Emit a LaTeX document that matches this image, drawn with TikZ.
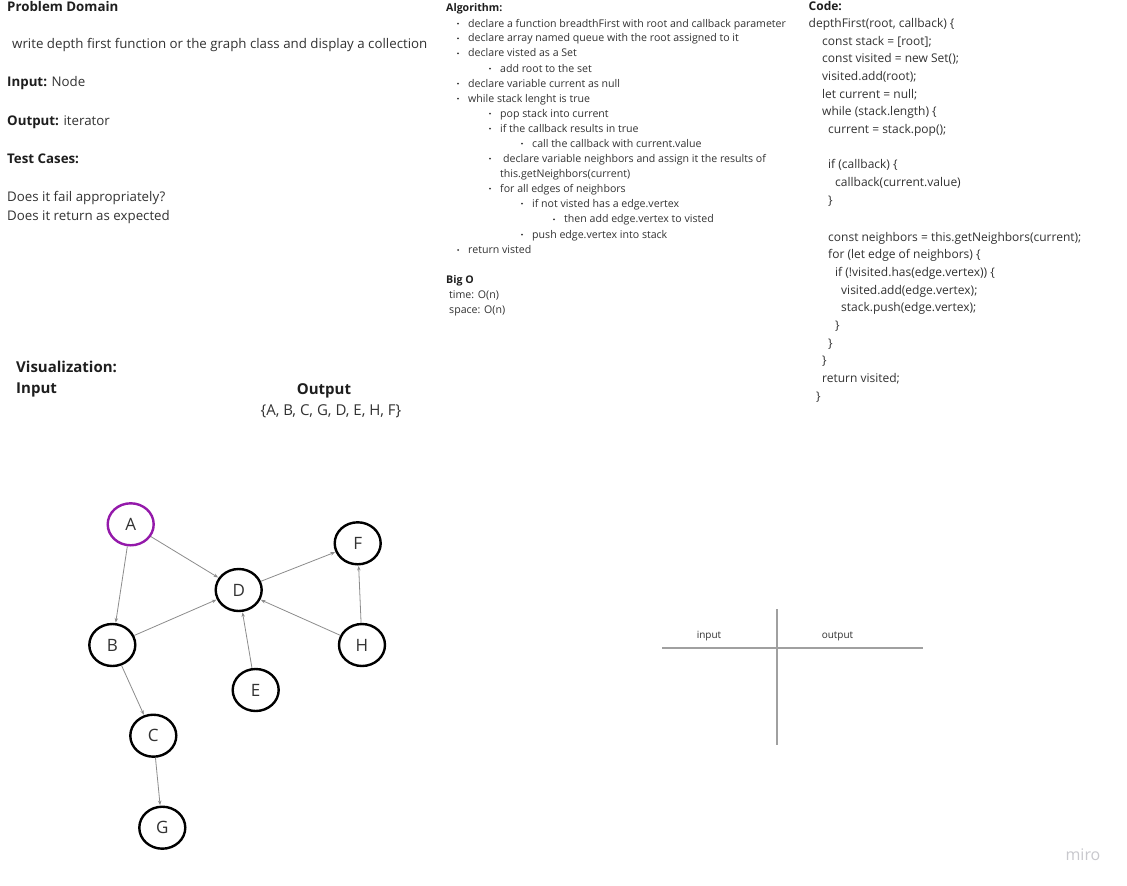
\documentclass[tikz,border=0pt]{standalone}
\usepackage{fontspec}
\setmainfont{Open Sans}
\usetikzlibrary{shapes.geometric,arrows.meta}
\definecolor{txtgray}{RGB}{50,50,50}
\definecolor{boldgray}{RGB}{30,30,30}
\definecolor{edgegray}{RGB}{140,140,140}
\definecolor{linegray}{RGB}{160,160,160}
\definecolor{purp}{RGB}{148,25,170}
\definecolor{mirogray}{RGB}{200,200,205}
\begin{document}
\begin{tikzpicture}[x=1pt,y=-1pt,
  txt/.style={anchor=west, inner sep=0pt, text height=1.05em, text depth=0.15em, text=txtgray},
  pd/.style={txt, font=\fontsize{13.3}{15}\selectfont},
  pdb/.style={txt, text=boldgray, font=\fontsize{13.3}{15}\selectfont\bfseries},
  alg/.style={txt, font=\fontsize{10.6}{12}\selectfont},
  algb/.style={txt, text=boldgray, font=\fontsize{10.6}{12}\selectfont\bfseries},
  cd/.style={txt, font=\fontsize{12}{14}\selectfont},
  cdb/.style={txt, text=boldgray, font=\fontsize{12}{14}\selectfont\bfseries},
  vb/.style={txt, text=boldgray, font=\fontsize{15}{17}\selectfont\bfseries},
  bul/.style={circle, fill=txtgray, inner sep=0pt, minimum size=2pt},
  gnode/.style={ellipse, draw=black, line width=2.4pt, minimum width=46pt, minimum height=42pt, inner sep=0pt, font=\fontsize{17}{19}\selectfont, text=txtgray},
  conn/.style={draw=edgegray, line width=0.8pt, -{Stealth[length=4.5pt,width=3.5pt]}, shorten >=0.5pt},
  tline/.style={draw=linegray, line width=2.2pt},
  small/.style={inner sep=0pt, text=txtgray, font=\fontsize{10}{12}\selectfont}
]
\fill[white] (0,0) rectangle (1127,886);
\useasboundingbox (0,0) rectangle (1127,886);

% Problem domain
\node[pdb] (pd0) at (7,7) {Problem Domain};
\node[pd] (pd1) at (12,44) {write depth first function or the graph class and display a collection};
\node[pd] (pd2) at (7,82) {\textbf{\color{boldgray}Input:} Node};
\node[pd] (pd3) at (7,121) {\textbf{\color{boldgray}Output:} iterator};
\node[pdb] (pd4) at (7,159) {Test Cases:};
\node[pd] (pd5) at (7,197) {Does it fail appropriately?};
\node[pd] (pd6) at (7,216) {Does it return as expected};

% Algorithm
\node[algb] (al0) at (446,7) {Algorithm:};
\foreach \y/\bx/\tx/\t [count=\i] in {
 22.7/458/468/{declare a function breadthFirst with root and callback parameter},
 37.3/458/468/{declare array named queue with the root assigned to it},
 52.3/458/468/{declare visted as a Set},
 67.7/490/500/{add root to the set},
 82.7/458/468/{declare variable current as null},
 97.7/458/468/{while stack lenght is true},
 112.7/490/500/{pop stack into current},
 127.7/490/500/{if the callback results in true},
 142.7/522/532/{call the callback with current.value},
 157.7/490/503/{declare variable neighbors and assign it the results of},
 187.7/490/500/{for all edges of neighbors},
 202.7/522/532/{if not visted has a edge.vertex},
 218.3/554/564/{then add edge.vertex to visted},
 233.7/522/532/{push edge.vertex into stack},
 249/458/468/{return visted}}{
  \node[bul] (ab\i) at (\bx,\y+1) {};
  \node[alg] (al\i) at (\tx,\y) {\t};
}
\node[alg] (alc) at (500,172.7) {this.getNeighbors(current)};
\node[algb] (bo0) at (446,279) {Big O};
\node[alg] (bo1) at (449,294) {time: O(n)};
\node[alg] (bo2) at (449,309) {space: O(n)};

% Code
\node[cdb] (cd0) at (808.5,5.5) {Code:};
\foreach \y/\x/\t [count=\i] in {
 22.7/808.5/{depthFirst(root, callback) \{},
 40.5/822/{const stack = [root];},
 58.2/822/{const visited = new Set();},
 75.8/822/{visited.add(root);},
 93.5/822/{let current = null;},
 111.2/822/{while (stack.length) \{},
 128.8/828/{current = stack.pop();},
 164.2/828/{if (callback) \{},
 181.8/835/{callback(current.value)},
 199.5/828/{\}},
 236.5/828/{const neighbors = this.getNeighbors(current);},
 254.2/828/{for (let edge of neighbors) \{},
 272/835/{if (!visited.has(edge.vertex)) \{},
 289.5/841/{visited.add(edge.vertex);},
 307.2/841/{stack.push(edge.vertex);},
 325/835/{\}},
 342.6/828/{\}},
 360.2/822/{\}},
 378/822/{return visited;},
 395.5/816/{\}}}{
  \node[cd] (cl\i) at (\x,\y) {\t};
}

% Visualization
\node[vb] (vis) at (16,367.5) {Visualization:};
\node[vb] (vin) at (16,389) {Input};
\node[vb, anchor=base] (vout) at (324,394.5) {Output};
\node[pd, anchor=base, font=\fontsize{15}{17}\selectfont] (vres) at (331,415) {\{A, B, C, G, D, E, H, F\}};

% Graph
\node[gnode, draw=purp] (A) at (130.7,524.3) {A};
\node[gnode] (F) at (357.7,543.3) {F};
\node[gnode] (D) at (238.7,590) {D};
\node[gnode] (B) at (112.3,645) {B};
\node[gnode] (H) at (362,645) {H};
\node[gnode] (E) at (255.7,690) {E};
\node[gnode] (C) at (153.3,735.7) {C};
\node[gnode] (G) at (162.3,827.7) {G};
\draw[conn] (A) -- (D);
\draw[conn] (A) -- (B);
\draw[conn] (B) -- (D);
\draw[conn] (B) -- (C);
\draw[conn] (C) -- (G);
\draw[conn] (D) -- (F);
\draw[conn] (H) -- (F);
\draw[conn] (H) -- (D);
\draw[conn] (E) -- (D);

% T-chart
\coordinate (hl) at (662,648.3);
\coordinate (hr) at (923,648.3);
\coordinate (vt) at (777,609.3);
\coordinate (vb) at (777,745);
\draw[tline] (hl) -- (hr);
\draw[tline] (vt) -- (vb);
\node[small, anchor=base] (tin) at (709,638.5) {input};
\node[small, anchor=base] (tout) at (837.5,638.5) {output};

% watermark
\node[inner sep=0pt, text=mirogray, font=\fontsize{16}{18}\selectfont] (miro) at (1083,855) {miro};
\end{tikzpicture}
\end{document}
